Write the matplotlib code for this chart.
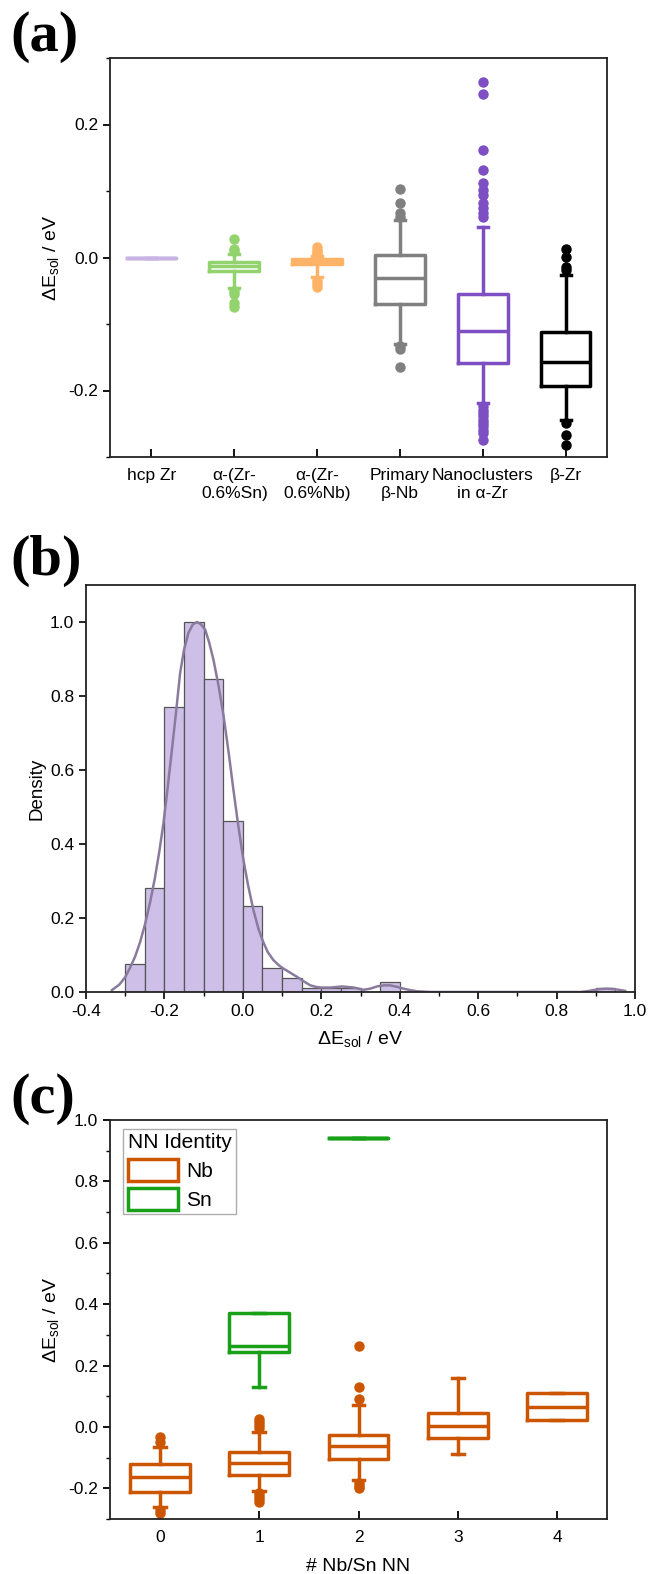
import matplotlib
matplotlib.use("Agg")
import matplotlib.pyplot as plt
from matplotlib.patches import Patch
from matplotlib.ticker import MultipleLocator

plt.rcParams['font.family'] = ['Liberation Sans', 'DejaVu Sans']
plt.rcParams['mathtext.fontset'] = 'custom'
plt.rcParams['mathtext.rm'] = 'Liberation Sans'
plt.rcParams['mathtext.it'] = 'Liberation Sans:italic'

# ---------------- Panel (a) data ----------------
a_categories = ["hcp Zr", "α-(Zr-\n0.6%Sn)", "α-(Zr-\n0.6%Nb)", "Primary\nβ-Nb",
                "Nanoclusters\nin α-Zr", "β-Zr"]
a_colors = ["#c9b3e3", "#92d36e", "#ffb366", "#808080", "#7d4fc3", "#000000"]
a_q1 = [0.0, -0.0203, -0.0095, -0.070, -0.158, -0.193]
a_med = [0.0, -0.0125, -0.0060, -0.0313, -0.1105, -0.1566]
a_q3 = [0.0, -0.0063, -0.0030, 0.0038, -0.0549, -0.1125]
a_whislo = [0.0, -0.046, -0.029, -0.130, -0.219, -0.2444]
a_whishi = [0.0, 0.005, 0.002, 0.0564, 0.0454, -0.0263]
a_fliers = [
    [],
    [0.028, 0.013, 0.010, -0.051, -0.055, -0.069, -0.074],
    [0.016, 0.012, 0.008, 0.005, -0.036, -0.040, -0.044],
    [0.0614, 0.0674, 0.0824, 0.1025, -0.133, -0.137, -0.165],
    [0.0614, 0.0665, 0.074, 0.0815, 0.094, 0.1015, 0.1113, 0.1316, 0.1617, 0.2459, 0.2634,
     -0.224, -0.229, -0.234, -0.239, -0.244, -0.249, -0.254, -0.259, -0.264, -0.274],
    [0.0128, 0.0013, -0.0138, -0.0188, -0.2494, -0.2669, -0.282],
]

# ---------------- Panel (b) data ----------------
b_bin_left = [-0.30, -0.25, -0.20, -0.15, -0.10, -0.05, 0.00, 0.05, 0.10, 0.15, 0.20, 0.25,
              0.30, 0.35, 0.40, 0.45, 0.50, 0.55, 0.60, 0.65, 0.70, 0.75, 0.80, 0.85, 0.90]
b_density = [0.077, 0.282, 0.770, 1.000, 0.847, 0.462, 0.232, 0.064, 0.038, 0.011, 0.011, 0.012,
             0.0, 0.026, 0.0, 0.0, 0.0, 0.0, 0.0, 0.0, 0.0, 0.0, 0.0, 0.0, 0.012]
b_kde_x = [-0.334, -0.315, -0.300, -0.288, -0.275, -0.262, -0.249, -0.236, -0.224, -0.213, -0.2025,
           -0.192, -0.181, -0.170, -0.160, -0.150, -0.139, -0.128, -0.117, -0.106, -0.096, -0.086,
           -0.075, -0.062, -0.049, -0.036, -0.024, -0.012, 0.0, 0.013, 0.027, 0.040, 0.052, 0.064,
           0.078, 0.092, 0.104, 0.121, 0.138, 0.155, 0.172, 0.186, 0.200, 0.223, 0.253, 0.283,
           0.308, 0.325, 0.342, 0.360, 0.376, 0.393, 0.410, 0.427, 0.444, 0.478, 0.86, 0.877,
           0.894, 0.911, 0.928, 0.943, 0.958, 0.975]
b_kde_y = [0.005, 0.020, 0.040, 0.065, 0.095, 0.135, 0.185, 0.245, 0.310, 0.380, 0.456,
           0.550, 0.654, 0.760, 0.862, 0.925, 0.970, 0.993, 1.000, 0.993, 0.979, 0.945,
           0.898, 0.828, 0.745, 0.645, 0.546, 0.452, 0.366, 0.290, 0.221, 0.170, 0.135, 0.107,
           0.086, 0.072, 0.063, 0.052, 0.041, 0.029, 0.018, 0.014, 0.012, 0.012, 0.015, 0.012,
           0.006, 0.009, 0.015, 0.018, 0.018, 0.014, 0.009, 0.005, 0.002, 0.0, 0.0, 0.002,
           0.005, 0.008, 0.009, 0.008, 0.006, 0.003]

# ---------------- Panel (c) data ----------------
c_positions_nb = [0, 1, 2, 3, 4]
c_nb_q1 = [-0.213, -0.157, -0.106, -0.0357, 0.0217]
c_nb_med = [-0.164, -0.116, -0.063, 0.0026, 0.0657]
c_nb_q3 = [-0.122, -0.081, -0.027, 0.0455, 0.110]
c_nb_whislo = [-0.260, -0.208, -0.173, -0.0897, 0.0217]
c_nb_whishi = [-0.065, -0.016, 0.0704, 0.160, 0.110]
c_nb_fliers = [
    [-0.0485, -0.032, -0.270, -0.280],
    [0.027, 0.016, 0.005, -0.005, -0.215, -0.225, -0.235, -0.243],
    [0.092, 0.130, 0.263, -0.184, -0.192, -0.200],
    [],
    [],
]
c_positions_sn = [1, 2]
c_sn_q1 = [0.245, 0.94]
c_sn_med = [0.263, 0.94]
c_sn_q3 = [0.372, 0.94]
c_sn_whislo = [0.130, 0.94]
c_sn_whishi = [0.372, 0.94]
c_sn_fliers = [[], []]
c_legend_labels = ["Nb", "Sn"]
c_colors = ["#cc5500", "#18a018"]

# ---------------- Figure ----------------
fig = plt.figure(figsize=(6.48, 15.74), dpi=100)
W, H = 648.0, 1574.0
TICK_FS = 12.5
LABEL_FS = 14


def axes_px(left, top, right, bottom):
    return fig.add_axes([left / W, 1 - bottom / H, (right - left) / W, (bottom - top) / H])


def style_spines(ax):
    for s in ax.spines.values():
        s.set_linewidth(1.3)
        s.set_color("#222222")


def draw_boxes(ax, positions, q1, med, q3, wlo, whi, fliers, colors, width=0.6):
    for i, p in enumerate(positions):
        c = colors[i] if isinstance(colors, list) else colors
        st = [dict(med=med[i], q1=q1[i], q3=q3[i], whislo=wlo[i], whishi=whi[i], fliers=fliers[i])]
        ax.bxp(st, positions=[p], widths=width, capwidths=0.12, showfliers=True,
               manage_ticks=False,
               boxprops=dict(color=c, linewidth=2.5),
               medianprops=dict(color=c, linewidth=2.5),
               whiskerprops=dict(color=c, linewidth=2.5),
               capprops=dict(color=c, linewidth=2.5),
               flierprops=dict(marker='o', markerfacecolor=c, markeredgecolor=c,
                               markersize=6.5, linestyle='none'))


label_font = dict(family='Liberation Serif', weight='bold', size=42)
ylab = 'ΔE$_{\\mathrm{sol}}$ / eV'

# ---- (a) ----
axa = axes_px(110, 58, 607, 457)
draw_boxes(axa, list(range(len(a_categories))), a_q1, a_med, a_q3, a_whislo, a_whishi,
           a_fliers, a_colors)
axa.set_xlim(-0.5, len(a_categories) - 0.5)
axa.set_ylim(-0.3, 0.3)
axa.set_xticks(range(len(a_categories)))
axa.set_xticklabels(a_categories, fontsize=TICK_FS, linespacing=1.25)
axa.set_yticks([-0.2, 0.0, 0.2])
axa.set_yticklabels(["-0.2", "0.0", "0.2"])
axa.yaxis.set_minor_locator(MultipleLocator(0.1))
axa.tick_params(axis='x', direction='in', length=6, width=1.3, pad=8)
axa.tick_params(axis='y', which='major', direction='out', length=5, width=1.3, labelsize=TICK_FS)
axa.tick_params(axis='y', which='minor', direction='out', length=3, width=1.0)
axa.set_ylabel(ylab, fontsize=LABEL_FS, labelpad=5)
style_spines(axa)
fig.text(10 / W, 1 - 11 / H, "(a)", ha='left', va='top', **label_font)

# ---- (b) ----
axb = axes_px(86, 585, 635, 992)
axb.bar(b_bin_left, b_density, width=0.05, align='edge', color='#cdbfe7',
        edgecolor='#555555', linewidth=0.9)
axb.plot(b_kde_x, b_kde_y, color='#8a7b9e', linewidth=1.8)
axb.set_xlim(-0.4, 1.0)
axb.set_ylim(0, 1.1)
axb.set_xticks([-0.4, -0.2, 0.0, 0.2, 0.4, 0.6, 0.8, 1.0])
axb.set_xticklabels(["-0.4", "-0.2", "0.0", "0.2", "0.4", "0.6", "0.8", "1.0"])
axb.set_yticks([0.0, 0.2, 0.4, 0.6, 0.8, 1.0])
axb.xaxis.set_minor_locator(MultipleLocator(0.1))
axb.tick_params(axis='both', which='major', direction='out', length=5, width=1.2, labelsize=TICK_FS)
axb.tick_params(axis='x', which='minor', direction='out', length=3, width=1.0)
axb.set_xlabel(ylab, fontsize=LABEL_FS, labelpad=7)
axb.set_ylabel("Density", fontsize=13.5, labelpad=3)
style_spines(axb)
fig.text(10 / W, 1 - 535 / H, "(b)", ha='left', va='top', **label_font)

# ---- (c) ----
axc = axes_px(110, 1120, 607, 1519)
draw_boxes(axc, c_positions_nb, c_nb_q1, c_nb_med, c_nb_q3, c_nb_whislo, c_nb_whishi,
           c_nb_fliers, c_colors[0])
draw_boxes(axc, c_positions_sn, c_sn_q1, c_sn_med, c_sn_q3, c_sn_whislo, c_sn_whishi,
           c_sn_fliers, c_colors[1])
axc.set_xlim(-0.5, 4.5)
axc.set_ylim(-0.3, 1.0)
axc.set_xticks([0, 1, 2, 3, 4])
axc.set_xticklabels(["0", "1", "2", "3", "4"])
axc.set_yticks([-0.2, 0.0, 0.2, 0.4, 0.6, 0.8, 1.0])
axc.set_yticklabels(["-0.2", "0.0", "0.2", "0.4", "0.6", "0.8", "1.0"])
axc.yaxis.set_minor_locator(MultipleLocator(0.1))
axc.tick_params(axis='x', direction='in', length=6, width=1.3, pad=8, labelsize=TICK_FS)
axc.tick_params(axis='y', which='major', direction='out', length=5, width=1.3, labelsize=TICK_FS)
axc.tick_params(axis='y', which='minor', direction='out', length=3, width=1.0)
axc.set_ylabel(ylab, fontsize=LABEL_FS, labelpad=5)
axc.set_xlabel("# Nb/Sn NN", fontsize=LABEL_FS, labelpad=9)
style_spines(axc)
handles = [Patch(facecolor='white', edgecolor=c, linewidth=2.5) for c in c_colors]
leg = axc.legend(handles, c_legend_labels, title="NN Identity", loc='upper left',
                 bbox_to_anchor=(0.027, 0.977), borderaxespad=0, fontsize=15,
                 title_fontsize=15, frameon=True, fancybox=False, handlelength=2.4,
                 handleheight=1.3, handletextpad=0.4, labelspacing=0.3, borderpad=0.2,
                 alignment='left')
leg.get_frame().set_edgecolor('#999999')
leg.get_frame().set_linewidth(1.0)
fig.text(10 / W, 1 - 1073 / H, "(c)", ha='left', va='top', **label_font)

fig.savefig("out.png", dpi=100)
